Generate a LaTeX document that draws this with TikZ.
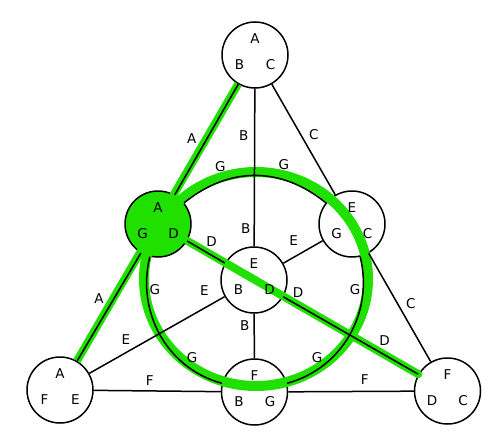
\documentclass[tikz,border=0pt]{standalone}
\usepackage{fontspec}
\setmainfont{DejaVu Sans}
\usetikzlibrary{topaths}
\definecolor{hlgreen}{RGB}{32,224,0}
\tikzset{
  pt/.style   ={draw, circle, line width=1.5pt, minimum size=66pt, inner sep=0pt, fill=white},
  edge/.style ={line width=1.5pt},
  hl/.style   ={line width=8pt, hlgreen},
  lbl/.style  ={inner sep=2pt},
  ltr/.style  ={inner sep=0pt},
}
\begin{document}
\begin{tikzpicture}[x=1pt, y=1pt, font=\fontsize{13.5}{16}\selectfont]
  \useasboundingbox (0,0) rectangle (502,-444);
  % points
  \foreach \n/\x/\y in {top/255/55, rmid/352/224, ctr/254/280, bl/60/390, bmid/254.5/392, br/447.5/391}
    \node[pt] (\n) at (\x,-\y) {};
  \node[pt, fill=hlgreen] (lmid) at (158,-224) {};
  % highlighted path
  \draw[hl] (top) -- (bl);
  \draw[hl, line cap=round] (lmid) -- (br);
  \draw[hl, line width=10pt] (256,-279) ellipse [x radius=112, y radius=107];
  % lines
  \draw[edge] (top) -- node[lbl, pos=0.49, left=8pt] (a1) {A} (lmid);
  \draw[edge] (lmid) -- node[lbl, pos=0.42, left=7.7pt] (a2) {A} (bl);
  \draw[edge] (top) -- node[lbl, pos=0.30, left=3.5pt] (b1) {B} node[lbl, pos=0.89, left=1pt] (b2) {B} (ctr);
  \draw[edge] (ctr) -- node[lbl, pos=0.26, left=2pt] (b3) {B} (bmid);
  \draw[edge] (top) -- node[lbl, pos=0.46, right=5.4pt] (c1) {C} (rmid);
  \draw[edge] (rmid) -- node[lbl, pos=0.46, right=6pt] (c2) {C} (br);
  \draw[edge] (lmid) -- node[lbl, pos=0.65, above=5.6pt] (d1) {D} (ctr);
  \draw[edge] (ctr) -- node[lbl, pos=0.11, above=4.8pt] (d2) {D} node[lbl, pos=0.75, above=6.3pt] (d3) {D} (br);
  \draw[edge] (bl) -- node[lbl, pos=0.27, above=5.2pt] (e1) {E} node[lbl, pos=0.85, above=9.9pt] (e2) {E} (ctr);
  \draw[edge] (ctr) -- node[lbl, pos=0.26, above=8.8pt] (e3) {E} (rmid);
  \draw[edge] (bl) -- node[lbl, pos=0.44, above=3pt] (f1) {F} (bmid);
  \draw[edge] (bmid) -- node[lbl, pos=0.61, above=3.7pt] (f2) {F} (br);
  \draw[edge] (lmid) to[out=39, in=141, looseness=1.05] node[lbl, pos=0.26, above=7pt] (g1) {G} node[lbl, pos=0.7, above=7pt] (g2) {G} (rmid);
  \draw[edge] (rmid) to[out=-76, in=15] node[lbl, pos=0.2, left] (g3) {G} node[lbl, pos=0.8, above=4pt] (g4) {G} (bmid);
  \draw[edge] (bmid) to[out=165, in=-104] node[lbl, pos=0.2, above=4pt] (g5) {G} node[lbl, pos=0.8, right] (g6) {G} (lmid);
  % point labels
  \foreach \n/\a/\b/\c in {top/A/B/C, lmid/A/G/D, rmid/E/G/C, ctr/E/B/D, bl/A/F/E, bmid/F/B/G, br/F/D/C} {
    \node[ltr] (\n-a) at ([yshift=16pt]\n.center) {\a};
    \node[ltr] (\n-b) at ([xshift=-15.5pt, yshift=-10pt]\n.center) {\b};
    \node[ltr] (\n-c) at ([xshift=15.5pt, yshift=-10pt]\n.center) {\c};
  }
\end{tikzpicture}
\end{document}
